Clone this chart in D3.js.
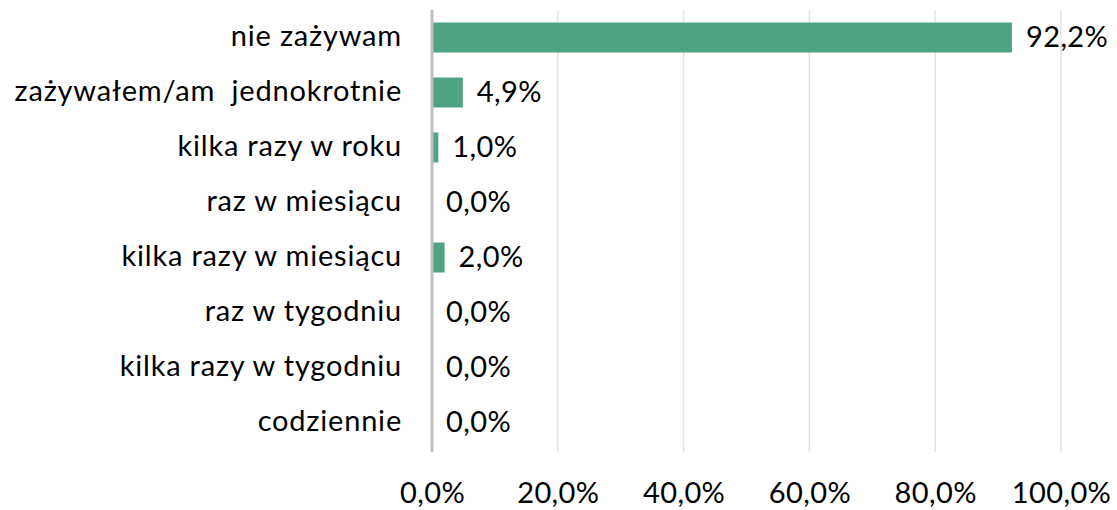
<!DOCTYPE html>
<html>
<head>
<meta charset="utf-8">
<script src="https://cdn.jsdelivr.net/npm/d3@7"></script>
<style>
  body { margin: 0; background: #fff; }
  text { font-family: Lato, "Open Sans", sans-serif; fill: #000; white-space: pre; }
</style>
</head>
<body>
<script>
var categories = ['nie zażywam', 'zażywałem/am  jednokrotnie', 'kilka razy w roku', 'raz w miesiącu',
                  'kilka razy w miesiącu', 'raz w tygodniu', 'kilka razy w tygodniu', 'codziennie'],
    values     = [92.2, 4.9, 1.0, 0.0, 2.0, 0.0, 0.0, 0.0],
    ticks      = [0, 20, 40, 60, 80, 100];

var
  width   = 1117,
  height  = 510,
  fsize   = '29px',
  margin  = {top: 10, right: 56, bottom: 60, left: 432},
  fmt     = function (v) { return v.toFixed(1).replace('.', ',') + '%'; },
  x       = d3.scaleLinear()
                .domain([0, 100])
                .range([margin.left, width - margin.right]),
  y       = d3.scaleBand()
                .domain(categories)
                .range([margin.top, height - margin.bottom])
                .paddingInner(0.455)
                .paddingOuter(0.2275),
  svg     = d3.select('body')
                .append('svg')
                .attr('width', width)
                .attr('height', height);

var rows = categories.map(function (c, i) { return {cat: c, val: values[i]}; });

// vertical gridlines
svg.append('g')
    .selectAll('line')
    .data(ticks.slice(1))
    .enter()
    .append('line')
    .attr('x1', x).attr('x2', x)
    .attr('y1', margin.top).attr('y2', height - margin.bottom + 2)
    .attr('stroke', '#e3e3e3')
    .attr('stroke-width', 1.5);

// bottom tick labels
svg.append('g')
    .attr('transform', 'translate(0,' + (height - margin.bottom) + ')')
    .call(d3.axisBottom(x).tickValues(ticks).tickFormat(fmt).tickSize(0).tickPadding(32))
    .call(function (g) { g.select('.domain').remove(); })
    .selectAll('text')
    .style('font-size', fsize)
    .style('letter-spacing', '0.4px')
    .style('font-family', 'Lato, "Open Sans", sans-serif')
    .attr('fill', '#000');

// bars
svg.append('g')
    .selectAll('rect')
    .data(rows)
    .enter()
    .append('rect')
    .attr('x', x(0))
    .attr('y', function (d) { return y(d.cat); })
    .attr('width', function (d) { return x(d.val) - x(0); })
    .attr('height', y.bandwidth())
    .attr('fill', '#4ea383');

// category axis
svg.append('g')
    .attr('transform', 'translate(' + x(0) + ',0)')
    .call(d3.axisLeft(y).tickSize(0).tickPadding(30))
    .call(function (g) {
      g.select('.domain')
        .attr('stroke', '#bfbfbf')
        .attr('stroke-width', 3)
        .attr('d', 'M0,' + margin.top + 'V' + (height - margin.bottom + 2));
    })
    .selectAll('text')
    .attr('dy', '.3em')
    .style('font-size', fsize)
    .style('letter-spacing', '0.8px')
    .style('font-family', 'Lato, "Open Sans", sans-serif')
    .attr('fill', '#000');

// value labels
svg.append('g')
    .selectAll('text')
    .data(rows)
    .enter()
    .append('text')
    .attr('x', function (d) { return x(d.val) + 14; })
    .attr('y', function (d) { return y(d.cat) + y.bandwidth() / 2; })
    .attr('dy', '.32em')
    .style('font-size', fsize)
    .style('letter-spacing', '0.4px')
    .text(function (d) { return fmt(d.val); });
</script>
</body>
</html>
